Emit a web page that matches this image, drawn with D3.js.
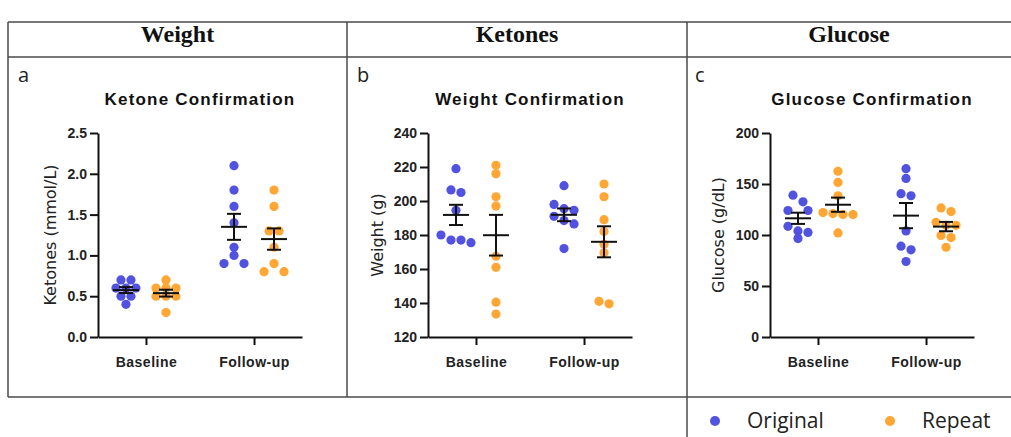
<!DOCTYPE html>
<html>
<head>
<meta charset="utf-8">
<script src="https://cdn.jsdelivr.net/npm/d3@7"></script>
<style>
  body { margin: 0; background: #fff; }
  svg { display: block; }
</style>
</head>
<body>
<div id="chart"></div>
<script>
// Groups and series
const groups = ["Baseline", "Follow-up"];
const series = ["Original", "Repeat"];
const seriesColors = ["#5252e0", "#ffa634"];
const headers = ["Weight", "Ketones", "Glucose"];

// Panel a - ketones (mmol/L)
const ketoneBaselineOriginal = [0.7, 0.7, 0.6, 0.6, 0.6, 0.5, 0.5, 0.4];
const ketoneBaselineRepeat = [0.7, 0.6, 0.6, 0.6, 0.5, 0.5, 0.5, 0.3];
const ketoneFollowOriginal = [2.1, 1.8, 1.6, 1.4, 1.1, 1.0, 0.9, 0.9];
const ketoneFollowRepeat = [1.8, 1.6, 1.3, 1.3, 1.1, 0.9, 0.8, 0.8];

// Panel b - weight (g)
const weightBaselineOriginal = [219, 206.5, 205, 194.5, 180, 177, 177, 175.5];
const weightBaselineRepeat = [221, 216, 202.5, 197, 167.5, 161, 140.5, 133.5];
const weightFollowOriginal = [209, 198, 195.5, 194.5, 191, 188.5, 186.5, 172];
const weightFollowRepeat = [210, 202.5, 189, 182, 174.5, 169.5, 141, 139.5];

// Panel c - glucose (g/dL)
const glucoseBaselineOriginal = [139, 132.5, 124, 124, 108.5, 104, 102.5, 96.5];
const glucoseBaselineRepeat = [162.5, 151.5, 138.5, 122, 121, 120, 120, 102];
const glucoseFollowOriginal = [165, 155.5, 140.5, 138.5, 104, 89, 85.5, 74];
const glucoseFollowRepeat = [126.5, 123, 112.5, 109.5, 109.5, 99.5, 97.5, 88];

const panels = [
    { label: "a", labelX: 18, title: "Ketone Confirmation", yTitle: "Ketones (mmol/L)", axisX: 98, yTitleGap: 48,
      domain: [0, 2.5], ticks: [0, 0.5, 1, 1.5, 2, 2.5], fmt: d3.format(".1f"),
      data: [[ketoneBaselineOriginal, ketoneBaselineRepeat], [ketoneFollowOriginal, ketoneFollowRepeat]] },
    { label: "b", labelX: 357, title: "Weight Confirmation", yTitle: "Weight (g)", axisX: 428, yTitleGap: 51,
      domain: [120, 240], ticks: [120, 140, 160, 180, 200, 220, 240], fmt: d3.format("d"),
      data: [[weightBaselineOriginal, weightBaselineRepeat], [weightFollowOriginal, weightFollowRepeat]] },
    { label: "c", labelX: 695, title: "Glucose Confirmation", yTitle: "Glucose (g/dL)", axisX: 770, yTitleGap: 52,
      domain: [0, 200], ticks: [0, 50, 100, 150, 200], fmt: d3.format("d"),
      data: [[glucoseBaselineOriginal, glucoseBaselineRepeat], [glucoseFollowOriginal, glucoseFollowRepeat]] }
];

const width = 1011, height = 437;
const plotTop = 133, plotBottom = 337, plotWidth = 204;
const dotR = 4.6, spacing = 10;
const sans = "'Liberation Sans', Arial, sans-serif";

const svg = d3.select("#chart").append("svg")
    .attr("width", width)
    .attr("height", height);

// Table frame
const frame = svg.append("g").attr("stroke", "#4a4a4a").attr("stroke-width", 1.5).attr("fill", "none");
frame.append("line").attr("x1", 8).attr("x2", width).attr("y1", 22).attr("y2", 22);
frame.append("line").attr("x1", 8).attr("x2", width).attr("y1", 57).attr("y2", 57);
frame.append("line").attr("x1", 8).attr("x2", width).attr("y1", 397).attr("y2", 397);
frame.append("line").attr("x1", 8).attr("x2", 8).attr("y1", 22).attr("y2", 397);
frame.append("line").attr("x1", 347).attr("x2", 347).attr("y1", 22).attr("y2", 397);
frame.append("line").attr("x1", 687).attr("x2", 687).attr("y1", 22).attr("y2", height);

const headerX = [177.5, 517, 849];
svg.selectAll(".header").data(headers).enter()
    .append("text")
    .attr("x", (d, i) => headerX[i])
    .attr("y", 42)
    .attr("text-anchor", "middle")
    .style("font-family", "'Liberation Serif', serif")
    .style("font-weight", "bold")
    .style("font-size", "24px")
    .style("fill", "#111")
    .text(d => d);

// Rows of near-equal values sit side by side, centred on the column
function swarm(values, y, cx) {
    const pts = values.map(v => ({ v, y: y(v) })).sort((a, b) => a.y - b.y);
    const rows = [];
    pts.forEach(p => {
        const r = rows[rows.length - 1];
        if (r && p.y - r[0].y < 8) r.push(p); else rows.push([p]);
    });
    const placed = [];
    rows.forEach(r => {
        let chosen = null;
        for (let m = 1; m <= 2 && !chosen; m++) {
            const xs = r.map((p, i) => cx + (i - (r.length - 1) / 2) * spacing * m);
            const ok = r.every((p, i) => placed.every(q => Math.hypot(q.x - xs[i], q.y - p.y) >= 9.8));
            if (ok) chosen = xs;
        }
        if (!chosen) chosen = r.map((p, i) => cx + (i - (r.length - 1) / 2) * spacing);
        r.forEach((p, i) => { p.x = chosen[i]; placed.push(p); });
    });
    return pts;
}

panels.forEach(p => {
    const g = svg.append("g");

    const x = d3.scalePoint().domain(groups).range([p.axisX, p.axisX + plotWidth]).padding(0.444);
    const xs = d3.scalePoint().domain(series).range([-20, 20]);
    const y = d3.scaleLinear().domain(p.domain).range([plotBottom, plotTop]);

    // panel letter
    g.append("text")
        .attr("x", p.labelX).attr("y", 82)
        .style("font-family", "'Open Sans', sans-serif")
        .style("font-size", "20px")
        .style("fill", "#222")
        .text(p.label);

    // title
    g.append("text")
        .attr("x", p.axisX + plotWidth / 2).attr("y", 105)
        .attr("text-anchor", "middle")
        .style("font-family", sans)
        .style("font-weight", "bold")
        .style("font-size", "17px")
        .style("letter-spacing", "1.2px")
        .style("fill", "#111")
        .text(p.title);

    // y axis
    const yAxis = g.append("g")
        .attr("transform", `translate(${p.axisX},0)`)
        .call(d3.axisLeft(y).tickValues(p.ticks).tickFormat(p.fmt).tickSize(8).tickSizeOuter(0).tickPadding(3));

    // x axis
    const xAxis = g.append("g")
        .attr("transform", `translate(0,${plotBottom})`)
        .call(d3.axisBottom(x).tickSize(8).tickSizeOuter(0).tickPadding(12));

    [yAxis, xAxis].forEach(a => {
        a.select(".domain").attr("stroke", "#111").attr("stroke-width", 2);
        a.selectAll(".tick line").attr("stroke", "#111").attr("stroke-width", 2);
        a.selectAll(".tick text")
            .style("font-family", sans)
            .style("font-weight", "bold")
            .style("font-size", "14px")
            .style("fill", "#222");
    });
    xAxis.selectAll(".tick text").style("letter-spacing", "0.5px");

    // y axis title
    g.append("text")
        .attr("transform", `translate(${p.axisX - p.yTitleGap + 6},${(plotTop + plotBottom) / 2}) rotate(-90)`)
        .attr("text-anchor", "middle")
        .style("font-family", "'DejaVu Sans', sans-serif")
        .style("font-size", "16px")
        .style("fill", "#222")
        .text(p.yTitle);

    // dots, then mean +/- SEM
    p.data.forEach((pair, gi) => {
        pair.forEach((vals, si) => {
            const cx = x(groups[gi]) + xs(series[si]);
            const pts = swarm(vals, y, cx);
            g.append("g").selectAll("circle").data(pts).enter()
                .append("circle")
                .attr("cx", d => d.x)
                .attr("cy", d => d.y)
                .attr("r", dotR)
                .attr("fill", seriesColors[si]);

            const mean = d3.mean(vals);
            const sem = d3.deviation(vals) / Math.sqrt(vals.length);
            const eb = g.append("g").attr("stroke", "#111").attr("stroke-width", 2);
            eb.append("line").attr("x1", cx - 13).attr("x2", cx + 13).attr("y1", y(mean)).attr("y2", y(mean));
            eb.append("line").attr("x1", cx).attr("x2", cx).attr("y1", y(mean - sem)).attr("y2", y(mean + sem));
            [mean - sem, mean + sem].forEach(v => {
                eb.append("line").attr("x1", cx - 7).attr("x2", cx + 7).attr("y1", y(v)).attr("y2", y(v));
            });
        });
    });
});

// legend
const legendX = [715, 890];
const legend = svg.selectAll(".legend").data(series).enter()
    .append("g")
    .attr("transform", (d, i) => `translate(${legendX[i]},421)`);
legend.append("circle").attr("r", 5).attr("fill", (d, i) => seriesColors[i]);
legend.append("text")
    .attr("x", 32).attr("y", 7)
    .style("font-family", "'Open Sans', sans-serif")
    .style("font-size", "21px")
    .style("fill", "#222")
    .text(d => d);
</script>
</body>
</html>
